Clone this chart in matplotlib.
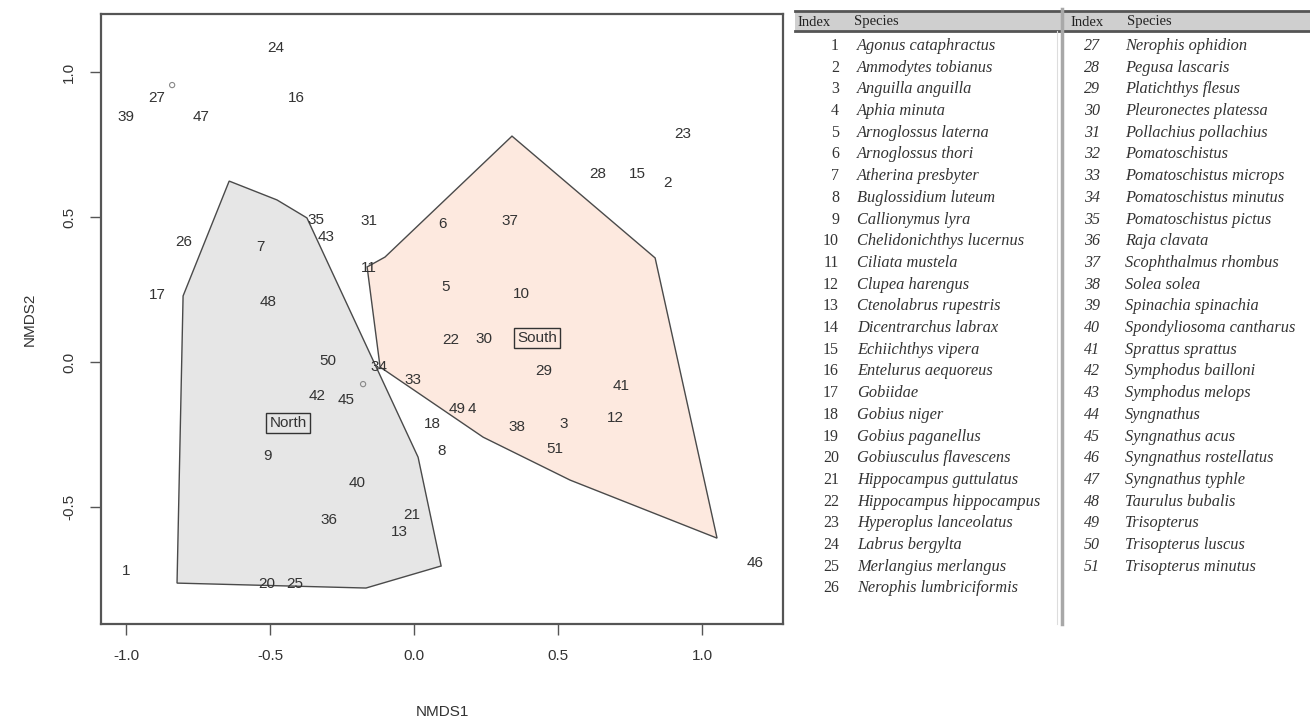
import matplotlib
matplotlib.use("Agg")
from matplotlib import pyplot as plt
from matplotlib.patches import Polygon, Rectangle
from matplotlib.lines import Line2D

# species scores (NMDS1, NMDS2), labelled by index
sp_id = [1, 2, 3, 4, 5, 6, 7, 8, 9, 10, 11, 12, 13, 15, 16, 17, 18, 20, 21, 22, 23, 24, 25, 26,
         27, 28, 29, 30, 31, 33, 34, 35, 36, 37, 38, 39, 40, 41, 42, 43, 45, 46, 47, 48, 49, 50, 51]
nmds1 = [-1.00, 0.88, 0.52, 0.20, 0.11, 0.10, -0.535, 0.094, -0.51, 0.372, -0.156, 0.698, -0.052,
         0.774, -0.41, -0.892, 0.062, -0.51, -0.007, 0.128, 0.934, -0.479, -0.413, -0.799,
         -0.892, 0.639, 0.451, 0.243, -0.156, -0.003, -0.122, -0.34, -0.295, 0.333, 0.358,
         -1.00, -0.198, 0.719, -0.337, -0.306, -0.236, 1.184, -0.74, -0.507, 0.149, -0.299, 0.49]
nmds2 = [-0.721, 0.617, -0.214, -0.162, 0.259, 0.476, 0.397, -0.307, -0.324, 0.234, 0.324, -0.193,
         -0.586, 0.648, 0.91, 0.231, -0.214, -0.766, -0.528, 0.076, 0.786, 1.083, -0.766, 0.414,
         0.91, 0.648, -0.031, 0.079, 0.486, -0.062, -0.017, 0.49, -0.545, 0.486, -0.224,
         0.845, -0.417, -0.083, -0.117, 0.431, -0.131, -0.693, 0.845, 0.207, -0.162, 0.003, -0.3]

# points drawn without a label
pt_x = [-0.84, -0.177]
pt_y = [0.955, -0.076]

# convex hulls of the two groups
north_x = [-0.642, -0.476, -0.372, 0.014, 0.094, -0.167, -0.823, -0.802]
north_y = [0.624, 0.559, 0.497, -0.328, -0.703, -0.779, -0.762, 0.228]
south_x = [0.34, 0.837, 1.052, 0.542, 0.24, -0.118, -0.163, -0.101]
south_y = [0.779, 0.359, -0.607, -0.407, -0.259, -0.017, 0.328, 0.362]
groups = ["North", "South"]
group_x = [-0.4375, 0.427]
group_y = [-0.21, 0.083]

species = ["Agonus cataphractus", "Ammodytes tobianus", "Anguilla anguilla", "Aphia minuta",
           "Arnoglossus laterna", "Arnoglossus thori", "Atherina presbyter", "Buglossidium luteum",
           "Callionymus lyra", "Chelidonichthys lucernus", "Ciliata mustela", "Clupea harengus",
           "Ctenolabrus rupestris", "Dicentrarchus labrax", "Echiichthys vipera",
           "Entelurus aequoreus", "Gobiidae", "Gobius niger", "Gobius paganellus",
           "Gobiusculus flavescens", "Hippocampus guttulatus", "Hippocampus hippocampus",
           "Hyperoplus lanceolatus", "Labrus bergylta", "Merlangius merlangus",
           "Nerophis lumbriciformis", "Nerophis ophidion", "Pegusa lascaris", "Platichthys flesus",
           "Pleuronectes platessa", "Pollachius pollachius", "Pomatoschistus",
           "Pomatoschistus microps", "Pomatoschistus minutus", "Pomatoschistus pictus",
           "Raja clavata", "Scophthalmus rhombus", "Solea solea", "Spinachia spinachia",
           "Spondyliosoma cantharus", "Sprattus sprattus", "Symphodus bailloni",
           "Symphodus melops", "Syngnathus", "Syngnathus acus", "Syngnathus rostellatus",
           "Syngnathus typhle", "Taurulus bubalis", "Trisopterus", "Trisopterus luscus",
           "Trisopterus minutus"]

W, H = 1310, 718
fig = plt.figure(figsize=(W / 100, H / 100), dpi=100)
plt.rcParams['font.family'] = ['Liberation Sans', 'DejaVu Sans']
ax = fig.add_axes([101 / W, 1 - 624 / H, 682 / W, 610 / H])
ax.set_xlim(-1.087, 1.281)
ax.set_ylim(-0.903, 1.2)

ax.add_patch(Polygon(list(zip(north_x, north_y)), closed=True, facecolor="#e6e6e6",
                     edgecolor="#4a4a4a", linewidth=1.0, zorder=1))
ax.add_patch(Polygon(list(zip(south_x, south_y)), closed=True, facecolor="#fde9df",
                     edgecolor="#4a4a4a", linewidth=1.0, zorder=1))

ax.scatter(pt_x, pt_y, s=14, facecolors="none", edgecolors="#888888", linewidths=0.8, zorder=2)
for i, x, y in zip(sp_id, nmds1, nmds2):
    ax.text(x, y, str(i), ha="center", va="center", fontsize=11, color="#333333", zorder=3)
for g, x, y in zip(groups, group_x, group_y):
    ax.text(x, y, g, ha="center", va="center", fontsize=11, color="#333333", zorder=4,
            bbox=dict(boxstyle="square,pad=0.2", facecolor="none", edgecolor="#333333", linewidth=1.0))

ax.set_xticks([-1.0, -0.5, 0.0, 0.5, 1.0])
ax.set_yticks([-0.5, 0.0, 0.5, 1.0])
ax.set_xticklabels(["-1.0", "-0.5", "0.0", "0.5", "1.0"])
ax.set_yticklabels(["-0.5", "0.0", "0.5", "1.0"], rotation=90, va="center")
ax.tick_params(direction="out", length=8, width=1.0, color="#555555", labelsize=11,
               labelcolor="#333333", pad=10)
for s in ax.spines.values():
    s.set_color("#555555")
    s.set_linewidth(1.6)
ax.set_xlabel("NMDS1", fontsize=11, color="#333333", labelpad=30)
ax.set_ylabel("NMDS2", fontsize=11, color="#333333", labelpad=18)

# species key table
def fx(px):
    return px / W

def fy(py):
    return 1 - py / H

fig.patches.append(Rectangle((fx(795), fy(31)), fx(1310) - fx(795), (31 - 11) / H,
                             transform=fig.transFigure, facecolor="#cfcfcf", edgecolor="none"))
fig.lines.append(Line2D([fx(795), fx(1310)], [fy(11), fy(11)], transform=fig.transFigure,
                        color="#555555", linewidth=2.0))
fig.lines.append(Line2D([fx(795), fx(1310)], [fy(31), fy(31)], transform=fig.transFigure,
                        color="#555555", linewidth=2.0))
fig.lines.append(Line2D([fx(1062), fx(1062)], [fy(9), fy(624)], transform=fig.transFigure,
                        color="#a8a8a8", linewidth=2.5))
fig.lines.append(Line2D([fx(1057), fx(1057)], [fy(31), fy(624)], transform=fig.transFigure,
                        color="#dddddd", linewidth=0.8))

tfont = ['Liberation Serif', 'DejaVu Serif']
for x0 in [797, 1070]:
    fig.text(fx(x0), fy(22), "Index", family=tfont, fontsize=10.5, va="center", color="#222222")
    fig.text(fx(x0 + 57), fy(22), "Species", family=tfont, fontsize=10.5, va="center", color="#222222")

row_h = 21.7
for k, name in enumerate(species):
    if k < 26:
        y = 46 + k * row_h
        fig.text(fx(839), fy(y), str(k + 1), family=tfont, fontsize=11.5, ha="right",
                 va="center", color="#333333")
        fig.text(fx(857), fy(y), name, family=tfont, style="italic", fontsize=11.8,
                 va="center", color="#333333")
    else:
        y = 46 + (k - 26) * row_h
        fig.text(fx(1100), fy(y), str(k + 1), family=tfont, style="italic", fontsize=11.5,
                 ha="right", va="center", color="#333333")
        fig.text(fx(1125), fy(y), name, family=tfont, style="italic", fontsize=11.8,
                 va="center", color="#333333")

fig.savefig("out.png", dpi=100)
